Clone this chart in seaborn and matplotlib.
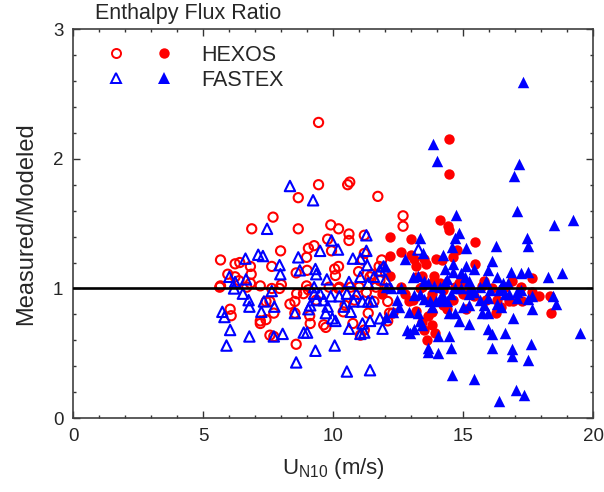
import numpy as np
import pandas as pd
import seaborn as sns
import matplotlib.pyplot as plt
from matplotlib.lines import Line2D
from matplotlib.legend_handler import HandlerTuple
from matplotlib.ticker import MultipleLocator

# DATA
hexos_low_x = [5.67, 5.67, 5.64, 5.95, 6.04, 6.08, 6.23, 6.41, 6.23, 6.82, 6.85, 6.87, 7.20, 7.20, 7.20,
               7.42, 7.42, 7.64, 7.64, 7.69, 7.57, 7.72, 7.72, 7.94, 7.98, 8.34, 8.53, 8.60, 8.58, 8.66,
               8.66, 8.58, 8.53, 8.98, 9.00, 9.05, 8.98, 9.05, 9.10, 9.12, 9.27, 9.44, 9.44, 9.64, 9.72,
               9.79, 9.91, 9.94, 10.06, 10.21, 10.21, 10.61, 10.61, 10.56, 10.64, 10.21, 10.39, 10.76,
               10.98, 11.00, 11.05, 11.20, 11.20, 11.20, 11.28, 11.35, 11.50, 11.72, 11.77, 11.65, 11.80,
               12.69, 12.69, 12.10, 12.17, 12.10, 12.30, 12.06, 6.38, 6.68, 7.57, 8.01, 8.86, 9.35, 9.85,
               10.09, 10.24, 10.46, 10.68, 10.82, 11.13, 11.42, 11.57, 11.87, 12.02, 6.82]
hexos_low_y = [1.22, 1.02, 1.01, 1.11, 0.84, 0.79, 1.19, 1.20, 1.09, 1.17, 1.11, 1.46, 1.02, 0.75, 0.73,
               0.76, 0.90, 1.17, 1.00, 1.55, 0.64, 0.81, 0.63, 1.00, 1.29, 0.88, 0.90, 0.96, 0.57, 1.46,
               1.70, 1.12, 0.81, 1.24, 1.14, 1.31, 1.02, 0.99, 0.79, 0.73, 1.33, 2.28, 1.80, 0.72, 0.70,
               1.38, 1.49, 1.29, 1.15, 1.17, 1.46, 1.42, 1.37, 1.80, 1.82, 1.00, 0.82, 0.73,
               1.13, 1.01, 0.64, 0.68, 1.41, 1.27, 0.97, 0.81, 1.11, 1.71, 1.17, 1.01, 1.06,
               1.56, 1.48, 0.90, 0.81, 0.75, 0.81, 1.00, 1.06, 1.01, 0.90, 1.03, 0.96, 0.91, 1.01,
               1.10, 1.01, 0.87, 1.01, 0.91, 1.22, 1.09, 0.90, 1.22, 1.12, 1.04]

hexos_high_x = [12.17, 12.17, 12.17, 12.62, 12.98, 12.98, 13.13, 13.20, 13.20, 13.06, 13.20, 13.43, 13.50,
                13.43, 13.43, 13.50, 13.62, 13.65, 13.72, 13.80, 13.80, 13.92, 13.87, 13.95, 14.10, 14.17,
                14.24, 14.39, 14.47, 14.47, 14.42, 14.44, 14.61, 14.76, 14.84, 14.99, 15.13, 15.46, 15.46,
                15.21, 15.73, 15.80, 16.10, 16.25, 16.32, 16.62, 16.77, 16.88, 16.91, 17.21, 17.28, 17.66,
                17.66, 17.92, 18.35, 18.37, 12.91, 12.62, 12.76, 13.35, 13.80, 14.10, 14.61, 14.69, 14.99,
                15.43, 15.88, 16.47, 13.80, 13.58, 14.24, 11.87]
hexos_high_y = [1.40, 1.25, 1.10, 1.28, 1.38, 1.26, 1.23, 1.17, 1.09, 0.91, 0.83, 1.10, 1.23,
                1.01, 0.74, 0.68, 0.60, 0.79, 0.91, 0.82, 0.72, 0.66, 1.10, 1.23, 1.53, 1.22,
                0.87, 0.84, 2.15, 1.88, 1.48, 1.45, 1.24, 1.30, 1.04, 0.96, 0.84, 1.36, 1.19,
                1.00, 1.02, 1.06, 1.00, 0.81, 0.91, 1.01, 0.90, 1.06, 0.90, 1.01, 0.90, 1.08,
                0.97, 0.94, 0.94, 0.81, 0.90, 1.01, 0.96, 1.00, 0.96, 1.04, 0.91, 1.01, 1.06,
                0.94, 0.91, 0.86, 1.04, 1.19, 0.99, 0.96]

fastex_low_x = [5.74, 5.82, 5.90, 6.04, 6.01, 6.19, 6.23, 6.63, 6.65, 6.53, 6.75, 6.78, 6.78, 7.12, 7.30,
                7.24, 7.34, 7.46, 7.64, 7.74, 7.72, 7.94, 7.97, 8.06, 8.34, 8.66, 8.72, 8.53, 8.58, 8.87,
                9.00, 9.23, 9.32, 9.32, 9.35, 9.50, 9.27, 9.76, 9.94, 10.19, 10.06, 10.53, 11.42, 10.61,
                10.76, 11.05, 11.28, 11.28, 11.31, 11.35, 11.13, 11.20, 11.42, 11.90, 11.80, 12.02, 11.94,
                13.28, 9.50, 9.64, 9.79, 9.91, 9.97, 10.09, 10.24, 10.42, 10.53, 10.61, 10.68, 10.79,
                10.90, 11.05, 11.13, 11.35, 11.50, 9.72, 9.35, 9.12, 9.27, 9.05, 11.05, 11.57, 11.80]
fastex_low_y = [0.82, 0.78, 0.56, 0.68, 1.09, 1.00, 1.05, 1.23, 1.07, 0.96, 0.91, 0.86, 0.63, 1.26, 1.25,
                0.82, 0.90, 1.46, 0.98, 0.86, 0.63, 1.18, 1.11, 0.65, 1.79, 1.24, 1.14, 0.81, 0.43, 0.66,
                0.66, 1.68, 0.52, 1.15, 1.11, 1.29, 1.01, 1.07, 1.37, 1.30, 0.56, 0.36, 0.37, 0.69,
                1.23, 1.23, 1.41, 1.29, 1.18, 1.04, 0.73, 0.66, 0.75, 0.69, 0.77, 1.07, 1.17,
                1.30, 0.96, 0.91, 0.86, 0.94, 0.77, 0.75, 0.94, 0.86, 0.96, 1.05, 0.82, 0.90,
                0.96, 1.09, 0.90, 0.90, 0.90, 0.81, 0.91, 0.87, 0.96, 0.84, 0.65, 1.09, 1.14]

fastex_high_x = [17.31, 13.84, 13.99, 17.14, 16.94, 17.09, 14.72, 18.50, 19.24, 19.51, 17.46, 17.51, 16.25,
                 13.35, 14.84, 14.69, 14.57, 15.10, 16.10, 13.47, 12.76, 14.24, 14.32, 15.13, 15.43, 15.96,
                 16.85, 17.21, 17.51, 18.28, 18.80, 17.62, 17.51, 16.88, 16.88, 16.62, 16.10, 16.10, 15.96,
                 15.40, 14.56, 14.53, 14.47, 14.02, 13.65, 13.65, 14.02, 16.39, 17.02, 17.36, 15.24, 16.91,
                 13.43, 12.95, 13.13, 17.66, 18.57, 18.46, 17.51, 17.06, 16.62, 16.47, 15.96, 15.80, 15.96,
                 15.73, 15.21, 15.21, 14.99, 14.84, 14.69, 14.47, 14.39, 14.17, 14.10, 13.95, 13.72, 13.50,
                 13.35, 13.13, 12.91, 12.83, 12.54, 12.46, 12.31, 12.24, 12.02, 11.99, 12.62, 13.06, 13.28,
                 13.50, 13.65, 13.87, 14.10, 14.32, 14.39, 14.61, 14.61, 14.91, 15.06, 15.28, 15.43, 15.65,
                 15.88, 16.32, 16.39, 16.54, 16.74, 16.32, 16.47, 16.77, 17.06, 17.21, 14.91, 14.69, 14.53,
                 14.24, 13.80, 13.28, 13.35, 15.21, 15.65, 16.03, 17.66, 12.02]
fastex_high_y = [2.59, 2.11, 1.98, 1.96, 1.87, 1.60, 1.57, 1.49, 1.53, 0.66, 1.39, 1.33, 1.33,
                 1.39, 1.43, 1.39, 1.32, 1.31, 1.21, 1.27, 1.23, 1.26, 1.15, 1.17, 1.15, 1.14,
                 1.13, 1.12, 1.13, 1.09, 1.12, 0.57, 0.45, 0.53, 0.48, 0.66, 0.54, 0.65, 0.69,
                 0.30, 0.33, 0.54, 0.63, 0.50, 0.51, 0.54, 0.63, 0.13, 0.22, 0.18, 0.73, 0.77,
                 0.72, 0.66, 0.69, 0.84, 0.88, 0.94, 0.92, 0.97, 0.96, 1.01, 0.93, 0.87, 0.81,
                 0.81, 0.87, 0.96, 0.86, 0.75, 0.81, 0.81, 0.90, 0.96, 0.92, 0.90, 0.90, 0.92,
                 0.96, 0.95, 0.82, 0.68, 0.86, 0.91, 0.82, 1.00, 0.78, 1.17, 1.00, 1.09, 1.10,
                 1.06, 1.04, 1.02, 1.01, 1.05, 1.07, 1.13, 1.19, 1.12, 1.09, 1.00, 0.97, 1.01,
                 1.06, 1.09, 0.99, 1.04, 1.04, 0.88, 0.86, 0.96, 0.93, 0.99, 1.00, 1.00, 0.96,
                 0.91, 0.86, 0.81, 0.75, 1.06, 0.91, 0.99, 0.94, 1.01]

hexos_low = pd.DataFrame({"U": hexos_low_x, "ratio": hexos_low_y})
hexos_high = pd.DataFrame({"U": hexos_high_x, "ratio": hexos_high_y})
fastex_low = pd.DataFrame({"U": fastex_low_x, "ratio": fastex_low_y})
fastex_high = pd.DataFrame({"U": fastex_high_x, "ratio": fastex_high_y})

# STYLE
sns.set_style("ticks")
plt.rcParams["font.family"] = ["Liberation Sans", "DejaVu Sans"]
plt.rcParams["mathtext.fontset"] = "custom"
plt.rcParams["mathtext.rm"] = "Liberation Sans"
plt.rcParams["mathtext.it"] = "Liberation Sans"

RED = "#ff0000"
BLUE = "#0000ff"

fig, ax = plt.subplots(figsize=(6.04, 4.92), dpi=100)
fig.subplots_adjust(left=0.121, right=0.982, bottom=0.150, top=0.941)

# SCATTER LAYERS
sns.scatterplot(data=hexos_low, x="U", y="ratio", ax=ax, marker="o", s=44,
                facecolors="none", edgecolor=RED, linewidth=1.5, zorder=2)
sns.scatterplot(data=hexos_high, x="U", y="ratio", ax=ax, marker="o", s=56,
                color=RED, edgecolor=RED, linewidth=0, zorder=2)
sns.scatterplot(data=fastex_low, x="U", y="ratio", ax=ax, marker="^", s=56,
                facecolors="none", edgecolor=BLUE, linewidth=1.5, zorder=3)
sns.scatterplot(data=fastex_high, x="U", y="ratio", ax=ax, marker="^", s=68,
                color=BLUE, edgecolor=BLUE, linewidth=0, zorder=3)

ax.axhline(1, color="black", lw=1.9, zorder=5)

# AXES
ax.set_xlim(0, 20)
ax.set_ylim(0, 3)
ax.xaxis.set_major_locator(MultipleLocator(5))
ax.xaxis.set_minor_locator(MultipleLocator(1))
ax.yaxis.set_major_locator(MultipleLocator(1))
ax.yaxis.set_minor_locator(MultipleLocator(0.2))
ax.tick_params(which="both", direction="in", top=True, right=True, color="#333333", width=1)
ax.tick_params(which="major", length=5, labelsize=13.5, pad=7)
ax.tick_params(which="minor", length=2.5)
for sp in ax.spines.values():
    sp.set_color("#404040")
    sp.set_linewidth(1.2)

ax.set_xlabel(r"U$_{\mathrm{N10}}$ (m/s)", fontsize=16, labelpad=8)
ax.set_ylabel("Measured/Modeled", fontsize=17, labelpad=11)
ax.text(0.042, 1.012, "Enthalpy Flux Ratio", transform=ax.transAxes,
        fontsize=15.5, ha="left", va="bottom")

# LEGEND (open / filled pairs)
h_hex = (Line2D([], [], ls="none", marker="o", ms=6.5, mfc="none", mec=RED, mew=1.4),
         Line2D([], [], ls="none", marker="o", ms=7.5, mfc=RED, mec=RED, mew=0))
h_fas = (Line2D([], [], ls="none", marker="^", ms=7.5, mfc="none", mec=BLUE, mew=1.4),
         Line2D([], [], ls="none", marker="^", ms=8.5, mfc=BLUE, mec=BLUE, mew=0))
ax.legend([h_hex, h_fas], ["HEXOS", "FASTEX"],
          handler_map={tuple: HandlerTuple(ndivide=None, pad=0)},
          loc="upper left", bbox_to_anchor=(0.036, 0.96), frameon=False,
          fontsize=15.5, handlelength=4.5, handletextpad=0.6, labelspacing=0.2,
          borderpad=0, borderaxespad=0)

fig.savefig("out.png", dpi=100)
